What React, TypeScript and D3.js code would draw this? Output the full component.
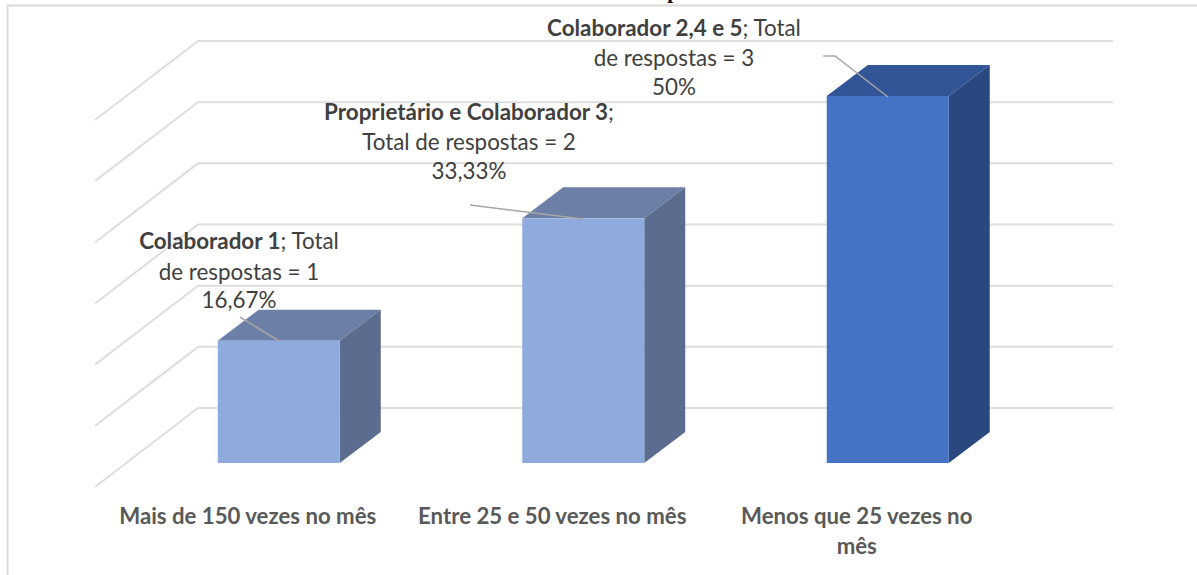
import React from "react";
import * as d3 from "d3";

const categories = ["Mais de 150 vezes no mês", "Entre 25 e 50 vezes no mês", "Menos que 25 vezes no mês"];
const categoryLines = [["Mais de 150 vezes no mês"], ["Entre 25 e 50 vezes no mês"], ["Menos que 25 vezes no", "mês"]];
const responses = [1, 2, 3];
const gridTicks = [0, 0.5, 1, 1.5, 2, 2.5, 3];
const labelBold = ["Colaborador 1", "Proprietário e Colaborador 3", "Colaborador 2,4 e 5"];
const labelLine1Rest = ["; Total", ";", "; Total"];
const labelLine2 = ["de respostas = 1", "Total de respostas = 2", "de respostas = 3"];
const labelPercent = ["16,67%", "33,33%", "50%"];

const W = 1197, H = 575;
const FONT = "Lato, Carlito, 'Open Sans', sans-serif";
const frontBase = 463, wallBase = 408;
const depthX = 41, depthY = 31, barW = 122;
const wallLeft = 198, wallRight = 1113, floorDX = 103, floorDY = 79;

const x = d3.scaleBand<string>().domain(categories).range([126.5, 1040]);
const h = d3.scaleLinear().domain([0, 3]).range([0, 367]);

const labelCx = [239, 469, 674];
const labelBase = [[249, 280, 308], [120, 150, 179], [36, 66, 95]];
const leaders: [number, number][][] = [
  [[240, 317], [279, 341]],
  [[470, 205], [583, 219]],
  [[823, 56], [835, 56], [888, 97]],
];
const faces = [
  { front: "#8FAADC", top: "#6C7FA6", side: "#5B6C8F" },
  { front: "#8FAADC", top: "#6C7FA6", side: "#5B6C8F" },
  { front: "#4472C4", top: "#325598", side: "#2A4880" },
];
const line = d3.line();

export default function App() {
  return (
    <svg width={W} height={H} viewBox={`0 0 ${W} ${H}`} style={{ position: "absolute", left: 0, top: 0, display: "block", background: "#fff" }}>
      <text x={673} y={-2.5} textAnchor="middle" fontFamily="'Liberation Serif', serif" fontWeight="bold" fontSize={21} fill="#000">p</text>
      <path d={`M7.5,575V5.5H${W}`} fill="none" stroke="#DADADA" strokeWidth={2} />
      {gridTicks.map((t) => {
        const y = wallBase - h(t);
        return (
          <path key={t} d={line([[wallLeft - floorDX, y + floorDY], [wallLeft, y], [wallRight, y]]) as string}
            fill="none" stroke="#DEDEDE" strokeWidth={2} />
        );
      })}
      {categories.map((c, i) => {
        const left = (x(c) as number) + x.bandwidth() / 2 - barW / 2;
        const right = left + barW;
        const top = frontBase - h(responses[i]);
        const f = faces[i];
        const poly = (pts: [number, number][]) => line(pts) + "Z";
        return (
          <g key={c}>
            <path d={poly([[left, top], [left + depthX, top - depthY], [right + depthX, top - depthY], [right, top]])} fill={f.top} />
            <path d={poly([[right, top], [right + depthX, top - depthY], [right + depthX, frontBase - depthY], [right, frontBase]])} fill={f.side} />
            <rect x={left} y={top} width={barW} height={h(responses[i])} fill={f.front} />
          </g>
        );
      })}
      {leaders.map((pts, i) => (
        <path key={i} d={line(pts) as string} fill="none" stroke="#A6A6A6" strokeWidth={1.5} />
      ))}
      {categories.map((c, i) => (
        <g key={c} fontFamily={FONT} fontSize={22.2} fontWeight="bold" fill="#595959" textAnchor="middle">
          {categoryLines[i].map((l, j) => (
            <text key={j} x={(x(c) as number) + x.bandwidth() / 2 - 31} y={524 + j * 30}>{l}</text>
          ))}
        </g>
      ))}
      {labelBold.map((b, i) => (
        <g key={b} fontFamily={FONT} fontSize={22.4} fill="#404040" textAnchor="middle">
          <text x={labelCx[i]} y={labelBase[i][0]}>
            <tspan fontWeight="bold">{b}</tspan>
            <tspan>{labelLine1Rest[i]}</tspan>
          </text>
          <text x={labelCx[i]} y={labelBase[i][1]}>{labelLine2[i]}</text>
          <text x={labelCx[i]} y={labelBase[i][2]}>{labelPercent[i]}</text>
        </g>
      ))}
    </svg>
  );
}
